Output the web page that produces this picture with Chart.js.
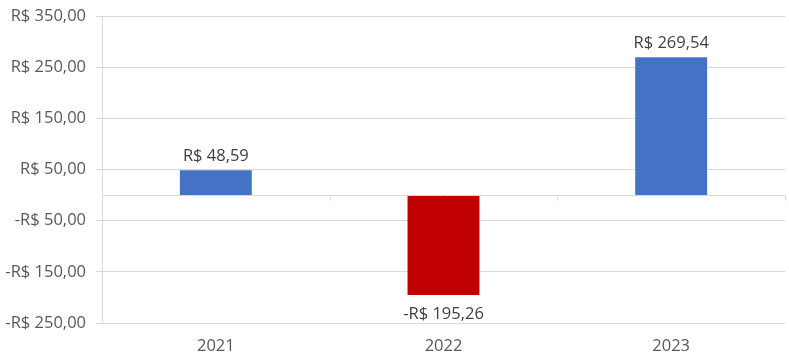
<!DOCTYPE html>
<html><head><meta charset="utf-8">
<style>html,body{margin:0;padding:0;background:#fff}#wrap{width:789px;height:356px}</style>
<script src="https://cdn.jsdelivr.net/npm/chart.js@4.4.1/dist/chart.umd.min.js"></script>
</head><body><div id="wrap"><canvas id="c" width="789" height="356"></canvas></div>
<script>
const categories = ['2021','2022','2023'];
const values = [48.59, -195.26, 269.54];
const barColors = ['#4472C4','#C00000','#4472C4'];
const yMin = -250, yMax = 350, yStep = 100;

const FONT = '"Open Sans", "Noto Sans", sans-serif';
function brl(v){
  const s = Math.abs(v).toFixed(2).replace('.', ',');
  return (v < 0 ? '-R$ ' : 'R$ ') + s;
}

const overlay = {
  id:'overlay',
  afterDatasetsDraw(chart){
    const ctx = chart.ctx, x = chart.scales.x, y = chart.scales.y;
    const y0 = Math.round(y.getPixelForValue(0)) + 0.5;
    ctx.save();
    ctx.strokeStyle = '#d9d9d9'; ctx.lineWidth = 1;
    ctx.beginPath();
    ctx.moveTo(chart.chartArea.left, y0); ctx.lineTo(chart.chartArea.right, y0);
    for (let i = 1; i <= categories.length; i++) {
      const px = Math.round(x.getPixelForValue(i - 0.5)) + 0.5;
      ctx.moveTo(px, y0); ctx.lineTo(px, y0 + 5);
    }
    ctx.stroke();
    const meta = chart.getDatasetMeta(0);
    ctx.fillStyle = '#404040';
    ctx.font = '16.5px ' + FONT;
    ctx.textAlign = 'center';
    meta.data.forEach((bar, i) => {
      const v = values[i];
      if (v >= 0) { ctx.textBaseline = 'bottom'; ctx.fillText(brl(v), bar.x, bar.y - 6); }
      else { ctx.textBaseline = 'top'; ctx.fillText(brl(v), bar.x, bar.y + 11); }
    });
    ctx.restore();
  }
};

new Chart(document.getElementById('c'), {
  type:'bar',
  data:{ labels:categories, datasets:[{ data:values, backgroundColor:barColors, borderWidth:0, categoryPercentage:1, barPercentage:0.316 }]},
  options:{
    responsive:false, animation:false, devicePixelRatio:1,
    layout:{ padding:{ top:0, right:4, bottom:0, left:0 } },
    plugins:{ legend:{display:false}, tooltip:{enabled:false} },
    scales:{
      x:{
        grid:{ display:false },
        border:{ display:false },
        ticks:{ color:'#595959', font:{ size:16.5, family:FONT }, padding:5 },
        afterFit(s){ s.height = 33; }
      },
      y:{
        min:yMin, max:yMax,
        afterBuildTicks(s){ const t=[]; for(let v=yMin; v<=yMax; v+=yStep) t.push({value:v}); s.ticks=t; },
        grid:{ color:'#d9d9d9', tickLength:6, drawTicks:true },
        border:{ display:true, color:'#d9d9d9' },
        ticks:{ color:'#595959', font:{ size:16.5, family:FONT }, padding:10, callback:v=>brl(v) },
        afterFit(s){ s.width = 102; s.paddingTop = 16; s.paddingBottom = 0; }
      }
    }
  },
  plugins:[overlay]
});
</script></body></html>
